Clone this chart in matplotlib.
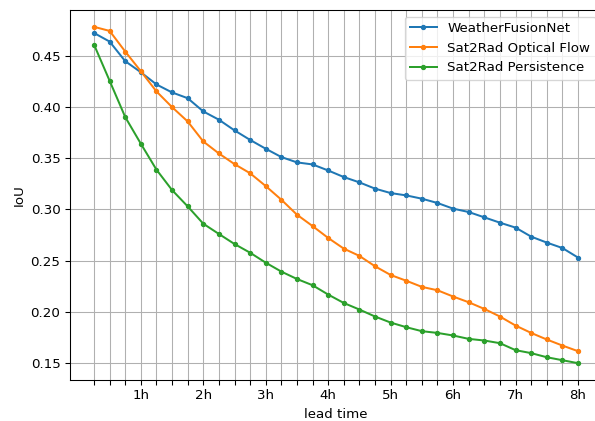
import matplotlib
matplotlib.use("Agg")
import matplotlib.pyplot as plt
import numpy as np

# Lead time steps of 15 minutes (index 0 = 15 min, index 31 = 8 h)
steps = np.arange(32)
hour_labels = ["1h", "2h", "3h", "4h", "5h", "6h", "7h", "8h"]

weatherfusionnet = [0.472, 0.4636, 0.4445, 0.4337, 0.4218, 0.414, 0.4084, 0.3955,
                    0.3874, 0.377, 0.3677, 0.3591, 0.351, 0.3458, 0.3438, 0.3379,
                    0.3315, 0.3263, 0.3202, 0.3159, 0.3136, 0.3104, 0.3062, 0.3007,
                    0.2974, 0.2922, 0.287, 0.2822, 0.2734, 0.2676, 0.2623, 0.253]
optical_flow = [0.478, 0.474, 0.4539, 0.4347, 0.415, 0.3997, 0.3857, 0.3662,
                0.3545, 0.3441, 0.3352, 0.3227, 0.3094, 0.2948, 0.2837, 0.2721,
                0.2617, 0.2546, 0.2445, 0.236, 0.2304, 0.2244, 0.2211, 0.215,
                0.2094, 0.2029, 0.1955, 0.1867, 0.1795, 0.1731, 0.1672, 0.1617]
persistence = [0.4607, 0.4254, 0.390, 0.364, 0.3387, 0.3188, 0.3029, 0.286,
               0.276, 0.2662, 0.2577, 0.248, 0.2393, 0.2321, 0.226, 0.2169,
               0.2087, 0.2023, 0.1955, 0.1896, 0.1851, 0.1812, 0.1795, 0.177,
               0.1737, 0.1721, 0.1695, 0.1627, 0.1598, 0.1558, 0.1529, 0.150]

DPI = 96
fig = plt.figure(figsize=(595 / DPI, 421 / DPI), dpi=DPI)
ax = fig.add_axes([69.8 / 595, 41 / 421, 532.4 / 595, 370 / 421])

ax.plot(steps, weatherfusionnet, marker=".", label="WeatherFusionNet")
ax.plot(steps, optical_flow, marker=".", label="Sat2Rad Optical Flow")
ax.plot(steps, persistence, marker=".", label="Sat2Rad Persistence")

tick_labels = ["" for _ in steps]
for k, lab in enumerate(hour_labels):
    tick_labels[4 * k + 3] = lab
ax.set_xticks(steps)
ax.set_xticklabels(tick_labels)
ax.set_yticks([0.15, 0.20, 0.25, 0.30, 0.35, 0.40, 0.45])

ax.grid(True)
ax.set_xlabel("lead time")
ax.set_ylabel("IoU")
ax.legend(loc="upper right")

fig.savefig("out.png", dpi=DPI)
